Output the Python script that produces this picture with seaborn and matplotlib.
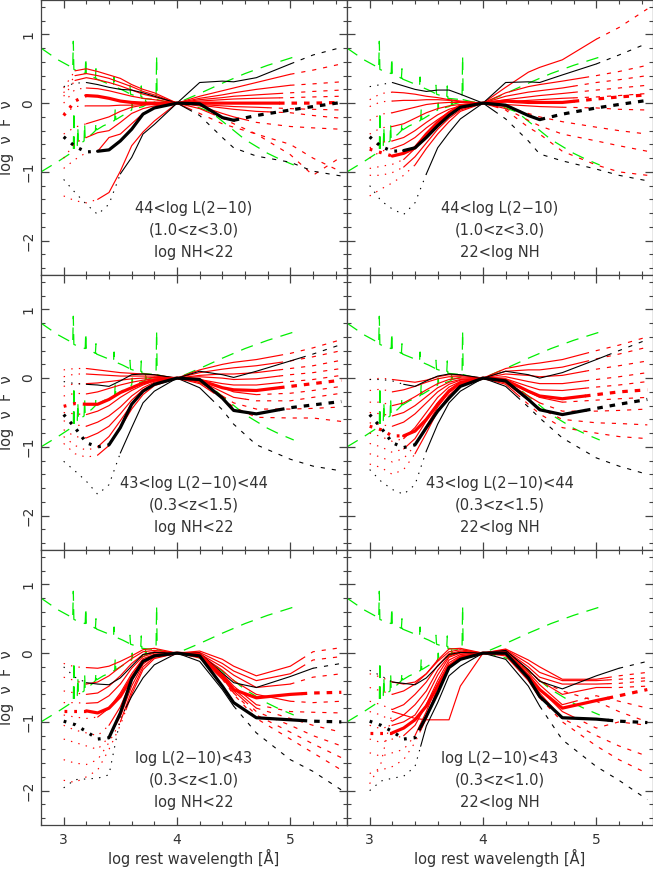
import numpy as np
import matplotlib
matplotlib.use("Agg")
import matplotlib.pyplot as plt
from matplotlib.ticker import MultipleLocator
import seaborn as sns

# common wavelength grid (log A) of the percentile curves
X = [3.0, 3.1, 3.2, 3.3, 3.4, 3.5, 3.6, 3.7, 3.8, 4.0, 4.2, 4.4, 4.5, 4.7, 5.0, 5.2, 5.45]

# green templates (type-1 QSO and obscured), same in every panel
GREEN_A_X = [2.80, 2.95, 3.05, 3.08, 3.085, 3.09, 3.15, 3.19, 3.195, 3.20, 3.26, 3.28, 3.285, 3.29, 3.35,
             3.44, 3.445, 3.45, 3.52, 3.58, 3.585, 3.59, 3.68, 3.685, 3.69, 3.75, 3.815, 3.82, 3.825, 3.9,
             4.0, 4.1, 4.2, 4.3, 4.45, 4.6, 4.7, 4.8, 4.9, 5.03]
GREEN_A_Y = [0.80, 0.63, 0.54, 0.50, 0.90, 0.49, 0.45, 0.43, 0.66, 0.42, 0.38, 0.36, 0.50, 0.35, 0.31,
             0.25, 0.38, 0.24, 0.19, 0.14, 0.26, 0.13, 0.08, 0.25, 0.07, 0.06, 0.05, 0.69, 0.05, 0.02,
             0.0, -0.03, -0.07, -0.13, -0.33, -0.53, -0.63, -0.73, -0.81, -0.90]
GREEN_B_X = [2.80, 2.95, 3.07, 3.085, 3.09, 3.095, 3.12, 3.125, 3.13, 3.18, 3.185, 3.19, 3.25, 3.28, 3.285,
             3.29, 3.35, 3.42, 3.45, 3.455, 3.46, 3.55, 3.60, 3.605, 3.61, 3.70, 3.72, 3.725, 3.73, 3.815,
             3.9, 4.0, 4.2, 4.4, 4.6, 4.8, 5.03]
GREEN_B_Y = [-1.00, -0.85, -0.72, -0.72, -0.12, -0.70, -0.62, -0.35, -0.61, -0.55, -0.30, -0.53, -0.45, -0.40, -0.28,
             -0.39, -0.33, -0.28, -0.25, -0.08, -0.24, -0.15, -0.10, 0.00, -0.09, -0.05, -0.03, 0.10, -0.02, 0.02,
             0.01, 0.0, 0.14, 0.29, 0.43, 0.55, 0.67]

# ---- panel 1: 44<L, 1.0<z<3.0, NH<22
P1_RED = [
    [0.22, 0.47, 0.50, 0.46, 0.41, 0.36, 0.27, 0.20, 0.15, 0, 0.10, 0.18, 0.22, 0.30, 0.42, 0.48, 0.57],
    [0.15, 0.40, 0.43, 0.40, 0.36, 0.30, 0.24, 0.17, 0.12, 0, 0.07, 0.12, 0.15, 0.20, 0.26, 0.28, 0.31],
    [0.10, 0.33, 0.37, 0.34, 0.30, 0.25, 0.19, 0.13, 0.09, 0, 0.05, 0.08, 0.10, 0.12, 0.15, 0.17, 0.19],
    [0.00, 0.20, 0.22, 0.21, 0.18, 0.14, 0.10, 0.07, 0.05, 0, 0.03, 0.05, 0.06, 0.07, 0.08, 0.09, 0.10],
    [-0.15, -0.05, -0.04, -0.04, -0.04, -0.03, -0.03, -0.02, -0.01, 0, -0.02, -0.04, -0.05, -0.06, -0.08, -0.09, -0.10],
    [-0.45, -0.35, -0.30, -0.25, -0.20, -0.12, -0.06, -0.03, -0.02, 0, -0.03, -0.07, -0.09, -0.12, -0.14, -0.18, -0.22],
    [-0.80, -0.58, -0.50, -0.43, -0.40, -0.28, -0.15, -0.08, -0.04, 0, -0.04, -0.15, -0.20, -0.28, -0.34, -0.36, -0.38],
    [-0.95, -0.82, -0.72, -0.70, -0.50, -0.45, -0.30, -0.15, -0.07, 0, -0.08, -0.22, -0.30, -0.45, -0.75, -1.05, -0.78],
    [-1.35, -1.42, -1.45, -1.40, -1.30, -0.99, -0.62, -0.42, -0.26, 0, -0.15, -0.30, -0.35, -0.45, -0.60, -0.80, -1.00],
]
P1_RED_SPAN = [(3.1, 5.0), (3.1, 5.0), (3.1, 4.9), (3.2, 4.9), (3.2, 4.8), (3.2, 4.8), (3.2, 4.6), (3.3, 4.3), (3.3, 4.1)]
P1_MED_RED = [-0.18, 0.03, 0.11, 0.10, 0.07, 0.03, 0.01, 0.0, 0.0, 0, 0.0, 0.0, 0.0, 0.0, 0.0, 0.0, 0.01]
P1_MED_BLK = [-0.49, -0.63, -0.71, -0.70, -0.68, -0.55, -0.38, -0.16, -0.07, 0, -0.01, -0.21, -0.25, -0.18, -0.10, -0.05, 0.01]
P1_BLK_UP = [0.24, 0.29, 0.30, 0.27, 0.23, 0.20, 0.19, 0.15, 0.10, 0, 0.30, 0.32, 0.31, 0.37, 0.57, 0.70, 0.81]
P1_BLK_LO = [-1.11, -1.30, -1.47, -1.62, -1.47, -1.03, -0.79, -0.45, -0.31, 0, -0.18, -0.50, -0.65, -0.77, -0.86, -0.99, -1.06]
P1_SPANS = [(3.2, 4.9), (3.3, 4.5), (3.2, 5.0), (3.5, 4.1)]

# ---- panel 2: 44<L, 1.0<z<3.0, 22<NH
P2_RED = [
    [0.05, 0.14, 0.16, 0.15, 0.13, 0.10, 0.08, 0.05, 0.03, 0, 0.23, 0.45, 0.52, 0.63, 0.93, 1.10, 1.37],
    [-0.05, 0.02, 0.03, 0.04, 0.04, 0.05, 0.05, 0.04, 0.02, 0, 0.15, 0.24, 0.27, 0.32, 0.40, 0.46, 0.55],
    [-0.25, -0.16, -0.14, -0.10, -0.06, -0.02, 0.0, 0.01, 0.01, 0, 0.10, 0.16, 0.18, 0.22, 0.30, 0.34, 0.40],
    [-0.45, -0.36, -0.34, -0.30, -0.22, -0.14, -0.08, -0.04, -0.02, 0, 0.05, 0.09, 0.11, 0.14, 0.19, 0.22, 0.26],
    [-0.65, -0.57, -0.55, -0.50, -0.40, -0.28, -0.17, -0.09, -0.04, 0, 0.02, 0.04, 0.05, 0.07, 0.09, 0.11, 0.14],
    [-0.80, -0.70, -0.66, -0.60, -0.50, -0.36, -0.24, -0.13, -0.06, 0, -0.02, -0.04, -0.05, -0.06, -0.07, -0.09, -0.10],
    [-0.95, -0.92, -0.89, -0.82, -0.66, -0.48, -0.32, -0.18, -0.08, 0, -0.05, -0.15, -0.20, -0.27, -0.35, -0.40, -0.45],
    [-1.05, -1.05, -1.01, -0.93, -0.78, -0.58, -0.38, -0.22, -0.10, 0, -0.08, -0.25, -0.33, -0.45, -0.55, -0.62, -0.70],
    [-1.35, -1.25, -1.16, -1.05, -0.90, -0.66, -0.45, -0.27, -0.12, 0, -0.10, -0.35, -0.45, -0.70, -0.90, -1.00, -1.05],
]
P2_RED_SPAN = [(3.2, 5.0), (3.2, 4.9), (3.2, 4.8), (3.2, 4.8), (3.2, 4.8), (3.2, 4.7), (3.3, 4.3), (3.3, 4.2), (3.4, 4.1)]
P2_MED_RED = [-0.67, -0.72, -0.77, -0.73, -0.65, -0.45, -0.28, -0.14, -0.04, 0, 0.03, 0.01, 0.01, 0.01, 0.06, 0.09, 0.12]
P2_MED_BLK = [-0.49, -0.63, -0.70, -0.69, -0.65, -0.50, -0.33, -0.18, -0.06, 0, -0.03, -0.18, -0.24, -0.16, -0.07, -0.02, 0.04]
P2_BLK_UP = [0.24, 0.27, 0.30, 0.25, 0.20, 0.17, 0.19, 0.19, 0.13, 0, 0.30, 0.31, 0.30, 0.41, 0.57, 0.70, 0.87]
P2_BLK_LO = [-1.20, -1.42, -1.54, -1.62, -1.45, -1.03, -0.65, -0.43, -0.23, 0, -0.23, -0.55, -0.74, -0.84, -0.96, -1.05, -1.13]
P2_SPANS = [(3.2, 4.8), (3.3, 4.5), (3.2, 5.0), (3.5, 4.1)]

# ---- panel 3: 43<L<44, 0.3<z<1.5, NH<22
P3_RED = [
    [0.12, 0.14, 0.14, 0.12, 0.10, 0.08, 0.07, 0.06, 0.05, 0, 0.12, 0.20, 0.23, 0.27, 0.36, 0.44, 0.56],
    [0.02, 0.06, 0.06, 0.05, 0.04, 0.03, 0.03, 0.03, 0.03, 0, 0.08, 0.13, 0.15, 0.18, 0.25, 0.31, 0.40],
    [-0.12, -0.08, -0.08, -0.07, -0.05, -0.03, -0.01, 0.0, 0.01, 0, 0.04, 0.06, 0.06, 0.08, 0.14, 0.18, 0.26],
    [-0.26, -0.22, -0.23, -0.20, -0.15, -0.10, -0.06, -0.03, -0.01, 0, 0.02, 0.0, -0.02, -0.01, 0.05, 0.08, 0.14],
    [-0.50, -0.52, -0.53, -0.48, -0.40, -0.28, -0.18, -0.10, -0.04, 0, -0.02, -0.08, -0.10, -0.10, -0.05, -0.02, 0.04],
    [-0.62, -0.68, -0.70, -0.64, -0.55, -0.42, -0.26, -0.14, -0.06, 0, -0.03, -0.14, -0.20, -0.24, -0.22, -0.18, -0.12],
    [-0.75, -0.85, -0.87, -0.80, -0.70, -0.52, -0.32, -0.17, -0.08, 0, -0.04, -0.20, -0.28, -0.33, -0.33, -0.28, -0.22],
    [-0.85, -0.98, -1.05, -1.00, -0.85, -0.62, -0.38, -0.20, -0.09, 0, -0.06, -0.26, -0.36, -0.45, -0.45, -0.44, -0.42],
    [-0.95, -1.10, -1.15, -1.12, -0.98, -0.72, -0.45, -0.24, -0.11, 0, -0.08, -0.30, -0.42, -0.57, -0.58, -0.58, -0.63],
]
P3_RED_SPAN = [(3.2, 4.9), (3.2, 4.9), (3.2, 4.9), (3.2, 4.9), (3.2, 4.9), (3.2, 4.7), (3.2, 4.6), (3.3, 4.4), (3.3, 4.3)]
P3_MED_RED = [-0.41, -0.37, -0.38, -0.38, -0.31, -0.21, -0.14, -0.07, -0.03, 0, -0.03, -0.14, -0.17, -0.18, -0.12, -0.08, -0.03]
P3_MED_BLK = [-0.53, -0.72, -0.94, -1.00, -0.97, -0.72, -0.38, -0.19, -0.09, 0, -0.02, -0.29, -0.47, -0.52, -0.43, -0.39, -0.34]
P3_BLK_UP = [-0.05, -0.08, -0.09, -0.10, -0.12, -0.04, 0.05, 0.06, 0.05, 0, 0.10, 0.05, 0.01, 0.10, 0.25, 0.35, 0.49]
P3_BLK_LO = [-1.21, -1.35, -1.50, -1.69, -1.55, -1.09, -0.72, -0.36, -0.19, 0, -0.14, -0.46, -0.67, -0.97, -1.18, -1.28, -1.35]
P3_SPANS = [(3.2, 4.9), (3.4, 4.9), (3.2, 5.1), (3.5, 4.3)]

# ---- panel 4: 43<L<44, 0.3<z<1.5, 22<NH
P4_RED = [
    [-0.02, 0.00, -0.02, -0.04, -0.06, -0.03, 0.02, 0.05, 0.04, 0, 0.14, 0.20, 0.22, 0.27, 0.40, 0.48, 0.60],
    [-0.18, -0.16, -0.20, -0.17, -0.12, -0.06, -0.01, 0.02, 0.02, 0, 0.10, 0.12, 0.12, 0.16, 0.28, 0.35, 0.45],
    [-0.35, -0.35, -0.40, -0.36, -0.27, -0.17, -0.08, -0.02, 0.0, 0, 0.06, 0.04, 0.02, 0.04, 0.13, 0.18, 0.25],
    [-0.50, -0.52, -0.55, -0.50, -0.40, -0.27, -0.14, -0.06, -0.02, 0, 0.02, -0.05, -0.08, -0.08, -0.02, 0.02, 0.08],
    [-0.65, -0.68, -0.70, -0.64, -0.52, -0.36, -0.20, -0.09, -0.03, 0, -0.01, -0.12, -0.17, -0.18, -0.13, -0.10, -0.05],
    [-0.80, -0.85, -0.92, -0.88, -0.72, -0.50, -0.28, -0.13, -0.05, 0, -0.03, -0.20, -0.28, -0.35, -0.32, -0.30, -0.28],
    [-0.95, -1.00, -1.08, -1.03, -0.88, -0.62, -0.36, -0.17, -0.07, 0, -0.05, -0.26, -0.36, -0.48, -0.48, -0.47, -0.45],
    [-1.10, -1.15, -1.22, -1.17, -0.98, -0.70, -0.42, -0.21, -0.08, 0, -0.07, -0.32, -0.44, -0.60, -0.65, -0.66, -0.68],
    [-1.25, -1.30, -1.40, -1.33, -1.10, -0.80, -0.48, -0.25, -0.10, 0, -0.09, -0.38, -0.52, -0.72, -0.80, -0.85, -0.88],
]
P4_RED_SPAN = [(3.2, 4.9), (3.2, 4.9), (3.2, 4.9), (3.2, 4.9), (3.2, 4.9), (3.3, 4.7), (3.3, 4.5), (3.4, 4.4), (3.4, 4.3)]
P4_MED_RED = [-0.70, -0.75, -0.84, -0.84, -0.77, -0.60, -0.38, -0.19, -0.07, 0, -0.03, -0.19, -0.26, -0.30, -0.24, -0.20, -0.17]
P4_MED_BLK = [-0.53, -0.72, -0.94, -1.01, -0.97, -0.72, -0.48, -0.29, -0.12, 0, -0.04, -0.31, -0.46, -0.53, -0.44, -0.38, -0.31]
P4_BLK_UP = [-0.02, -0.02, -0.04, -0.09, -0.12, -0.04, 0.03, 0.06, 0.05, 0, 0.10, 0.05, 0.0, 0.08, 0.27, 0.40, 0.56]
P4_BLK_LO = [-1.33, -1.50, -1.62, -1.69, -1.55, -1.06, -0.67, -0.36, -0.19, 0, -0.12, -0.42, -0.58, -0.87, -1.16, -1.28, -1.40]
P4_SPANS = [(3.3, 4.9), (3.4, 4.9), (3.3, 5.1), (3.5, 4.3)]

# ---- panel 5: L<43, 0.3<z<1.0, NH<22
P5_RED = [
    [-0.15, -0.20, -0.21, -0.22, -0.19, -0.12, -0.04, 0.05, 0.07, 0, 0.03, -0.09, -0.19, -0.33, -0.19, 0.02, 0.08],
    [-0.35, -0.40, -0.45, -0.42, -0.33, -0.20, -0.08, 0.02, 0.04, 0, 0.01, -0.15, -0.26, -0.40, -0.30, -0.10, -0.05],
    [-0.55, -0.58, -0.60, -0.58, -0.48, -0.33, -0.15, -0.02, 0.02, 0, -0.01, -0.20, -0.32, -0.50, -0.45, -0.35, -0.30],
    [-0.72, -0.72, -0.73, -0.72, -0.62, -0.45, -0.22, -0.05, 0.0, 0, -0.02, -0.25, -0.40, -0.60, -0.70, -0.72, -0.70],
    [-0.90, -0.93, -0.95, -0.93, -0.80, -0.58, -0.30, -0.08, -0.02, 0, -0.03, -0.30, -0.48, -0.75, -0.85, -0.86, -0.87],
    [-1.05, -1.12, -1.16, -1.20, -1.05, -0.78, -0.40, -0.12, -0.03, 0, -0.04, -0.32, -0.52, -0.80, -0.95, -1.05, -1.15],
    [-1.25, -1.30, -1.35, -1.40, -1.22, -0.92, -0.48, -0.16, -0.04, 0, -0.05, -0.34, -0.55, -0.85, -1.05, -1.20, -1.35],
    [-1.55, -1.60, -1.62, -1.55, -1.30, -1.00, -0.55, -0.20, -0.06, 0, -0.06, -0.36, -0.58, -0.90, -1.15, -1.32, -1.52],
    [-1.85, -1.88, -1.80, -1.70, -1.40, -1.05, -0.60, -0.24, -0.08, 0, -0.07, -0.38, -0.60, -0.95, -1.25, -1.45, -1.70],
]
P5_RED_SPAN = [(3.2, 5.1), (3.2, 5.1), (3.2, 5.0), (3.2, 5.0), (3.3, 4.7), (3.4, 4.7), (3.45, 4.6), (3.5, 4.5), (3.55, 4.4)]
P5_MED_RED = [-0.84, -0.84, -0.84, -0.87, -0.80, -0.63, -0.36, -0.12, -0.04, 0, -0.02, -0.33, -0.53, -0.65, -0.60, -0.58, -0.57]
P5_MED_BLK = [-0.99, -1.04, -1.14, -1.25, -1.23, -0.87, -0.38, -0.12, -0.04, 0, -0.04, -0.48, -0.72, -0.94, -0.97, -0.99, -1.00]
P5_BLK_UP = [-0.20, -0.35, -0.43, -0.45, -0.46, -0.36, -0.19, -0.02, 0.01, 0, 0.0, -0.29, -0.43, -0.50, -0.34, -0.22, -0.15]
P5_BLK_LO = [-1.96, -1.84, -1.83, -1.82, -1.77, -0.95, -0.63, -0.36, -0.17, 0, -0.12, -0.53, -0.77, -1.16, -1.55, -1.72, -1.99]
P5_SPANS = [(3.2, 5.1), (3.4, 5.1), (3.2, 5.2), (3.55, 4.5)]

# ---- panel 6: L<43, 0.3<z<1.0, 22<NH
P6_RED = [
    [-0.30, -0.35, -0.42, -0.45, -0.42, -0.30, -0.10, 0.06, 0.07, 0, 0.06, -0.10, -0.20, -0.38, -0.38, -0.33, -0.28],
    [-0.50, -0.55, -0.60, -0.55, -0.45, -0.30, -0.12, 0.02, 0.05, 0, 0.05, -0.15, -0.28, -0.40, -0.40, -0.38, -0.36],
    [-0.70, -0.75, -0.82, -0.75, -0.60, -0.42, -0.18, -0.01, 0.03, 0, 0.04, -0.20, -0.35, -0.45, -0.45, -0.44, -0.40],
    [-0.85, -0.90, -0.99, -0.90, -0.75, -0.55, -0.25, -0.04, 0.01, 0, 0.03, -0.25, -0.40, -0.60, -0.50, -0.50, -0.48],
    [-1.05, -1.10, -1.05, -1.00, -0.90, -0.65, -0.32, -0.06, 0.0, 0, 0.02, -0.28, -0.46, -0.75, -0.62, -0.70, -0.80],
    [-1.25, -1.30, -1.25, -1.20, -1.05, -0.75, -0.40, -0.10, -0.02, 0, 0.0, -0.32, -0.52, -0.85, -1.09, -1.00, -1.05],
    [-1.45, -1.50, -1.45, -1.40, -1.20, -0.85, -0.45, -0.14, -0.04, 0, -0.02, -0.36, -0.58, -0.95, -1.20, -1.35, -1.50],
    [-1.75, -1.70, -1.65, -1.55, -1.30, -0.95, -0.50, -0.18, -0.06, 0, -0.04, -0.40, -0.65, -1.00, -1.35, -1.55, -1.75],
    [-1.90, -1.60, -0.85, -0.90, -0.95, -0.97, -0.97, -0.97, -0.48, 0, -0.02, -0.25, -0.40, -0.55, -0.70, -0.85, -1.00],
]
P6_RED_SPAN = [(3.2, 5.1), (3.2, 5.1), (3.2, 5.1), (3.2, 5.1), (3.2, 4.8), (3.3, 4.8), (3.4, 4.6), (3.45, 4.5), (3.2, 4.3)]
P6_MED_RED = [-1.16, -1.16, -1.16, -1.09, -0.97, -0.77, -0.48, -0.19, -0.07, 0, 0.0, -0.33, -0.53, -0.80, -0.69, -0.62, -0.53]
P6_MED_BLK = [-0.99, -1.05, -1.14, -1.25, -1.23, -0.92, -0.58, -0.21, -0.09, 0, 0.0, -0.36, -0.63, -0.94, -0.96, -0.99, -1.01]
P6_BLK_UP = [-0.25, -0.33, -0.42, -0.44, -0.46, -0.36, -0.19, -0.02, 0.01, 0, 0.04, -0.24, -0.41, -0.52, -0.33, -0.22, -0.12]
P6_BLK_LO = [-2.00, -1.86, -1.82, -1.79, -1.65, -1.06, -0.72, -0.33, -0.19, 0, -0.09, -0.48, -0.77, -1.26, -1.65, -1.85, -2.13]
P6_SPANS = [(3.2, 5.1), (3.45, 5.1), (3.2, 5.2), (3.45, 4.5)]

PANEL_TEXT = [
    ["44<log L(2\u221210)", "(1.0<z<3.0)", "log NH<22"],
    ["44<log L(2\u221210)", "(1.0<z<3.0)", "22<log NH"],
    ["43<log L(2\u221210)<44", "(0.3<z<1.5)", "log NH<22"],
    ["43<log L(2\u221210)<44", "(0.3<z<1.5)", "22<log NH"],
    ["log L(2\u221210)<43", "(0.3<z<1.0)", "log NH<22"],
    ["log L(2\u221210)<43", "(0.3<z<1.0)", "22<log NH"],
]
TEXT_Y = [-1.53, -1.85, -2.17]

PANELS = [
    (P1_RED, P1_RED_SPAN, P1_MED_RED, P1_MED_BLK, P1_BLK_UP, P1_BLK_LO, P1_SPANS),
    (P2_RED, P2_RED_SPAN, P2_MED_RED, P2_MED_BLK, P2_BLK_UP, P2_BLK_LO, P2_SPANS),
    (P3_RED, P3_RED_SPAN, P3_MED_RED, P3_MED_BLK, P3_BLK_UP, P3_BLK_LO, P3_SPANS),
    (P4_RED, P4_RED_SPAN, P4_MED_RED, P4_MED_BLK, P4_BLK_UP, P4_BLK_LO, P4_SPANS),
    (P5_RED, P5_RED_SPAN, P5_MED_RED, P5_MED_BLK, P5_BLK_UP, P5_BLK_LO, P5_SPANS),
    (P6_RED, P6_RED_SPAN, P6_MED_RED, P6_MED_BLK, P6_BLK_UP, P6_BLK_LO, P6_SPANS),
]

sns.set_theme(style="ticks")
plt.rcParams["font.family"] = ["DejaVu Sans"]
plt.rcParams["lines.scale_dashes"] = False
plt.rcParams["axes.unicode_minus"] = True

TXT = "#333333"
RED = "#ff0000"
GREEN = "#00ee00"

THIN_L = (0, (1.0, 4.5))
THIN_R = (0, (3.0, 5.0))
THICK_L = (0, (2.0, 5.0))
THICK_R = (0, (4.0, 5.0))


def draw_curve(ax, ys, span, color, lw, z, thick=False):
    lo, hi = span
    xs = np.array(X, dtype=float)
    xf = np.unique(np.concatenate([xs, [lo, hi]]))
    yf = np.interp(xf, xs, np.array(ys, dtype=float))
    parts = [
        (xf <= lo + 1e-9, THICK_L if thick else THIN_L),
        ((xf >= lo - 1e-9) & (xf <= hi + 1e-9), "-"),
        (xf >= hi - 1e-9, THICK_R if thick else THIN_R),
    ]
    for mask, ls in parts:
        if mask.sum() < 2:
            continue
        sns.lineplot(x=xf[mask], y=yf[mask], ax=ax, color=color, linewidth=lw,
                     linestyle=ls, estimator=None, sort=False, zorder=z)


fig = plt.figure(figsize=(6.53, 8.69), dpi=100)
W = 306 / 653
H = 275 / 869
LEFTS = [41 / 653, 347 / 653]
BOTTOMS = [(869 - 275) / 869, (869 - 550) / 869, (869 - 825) / 869]

for i, (red, red_span, med_red, med_blk, blk_up, blk_lo, spans) in enumerate(PANELS):
    row, col = divmod(i, 2)
    ax = fig.add_axes([LEFTS[col], BOTTOMS[row], W, H])

    # templates
    sns.lineplot(x=GREEN_A_X, y=GREEN_A_Y, ax=ax, color=GREEN, linewidth=0.9,
                 linestyle=(0, (9, 6)), estimator=None, sort=False, zorder=1)
    sns.lineplot(x=GREEN_B_X, y=GREEN_B_Y, ax=ax, color=GREEN, linewidth=0.9,
                 linestyle=(0, (9, 6)), estimator=None, sort=False, zorder=1)

    for ys, sp in zip(red, red_span):
        draw_curve(ax, ys, sp, RED, 0.85, 2)
    draw_curve(ax, blk_up, spans[2], "black", 0.8, 3)
    draw_curve(ax, blk_lo, spans[3], "black", 0.8, 3)
    draw_curve(ax, med_red, spans[0], RED, 2.3, 4, thick=True)
    draw_curve(ax, med_blk, spans[1], "black", 2.3, 5, thick=True)

    for k, line in enumerate(PANEL_TEXT[i]):
        ax.text(4.15, TEXT_Y[k], line, ha="center", va="center",
                fontsize=10.5, color=TXT)

    ax.set_xlim(2.8, 5.5)
    ax.set_ylim(-2.5, 1.5)
    ax.xaxis.set_major_locator(MultipleLocator(1))
    ax.xaxis.set_minor_locator(MultipleLocator(0.2))
    ax.yaxis.set_major_locator(MultipleLocator(1))
    ax.yaxis.set_minor_locator(MultipleLocator(0.2))
    ax.tick_params(which="both", direction="in", top=True, right=True,
                   color="#444444", labelcolor=TXT, labelsize=10)
    ax.tick_params(which="major", length=6, width=0.9)
    ax.tick_params(which="minor", length=3, width=0.8)
    ax.tick_params(axis="x", which="major", pad=6)
    ax.tick_params(axis="y", which="major", pad=4)
    for s in ax.spines.values():
        s.set_color("#444444")
        s.set_linewidth(0.9)

    if col == 0:
        ax.set_ylabel("log  \u03bd  F  \u03bd", fontsize=10.5, color=TXT)
        ax.yaxis.set_label_coords(-0.088, 0.5)
        plt.setp(ax.get_yticklabels(), rotation=90, va="center")
    else:
        ax.set_ylabel("")
        ax.set_yticklabels([])
    if row == 2:
        ax.set_xlabel("log rest wavelength [\u00c5]", fontsize=10.5, color=TXT, labelpad=1)
    else:
        ax.set_xlabel("")
        ax.set_xticklabels([])

fig.savefig("out.png", dpi=100)
